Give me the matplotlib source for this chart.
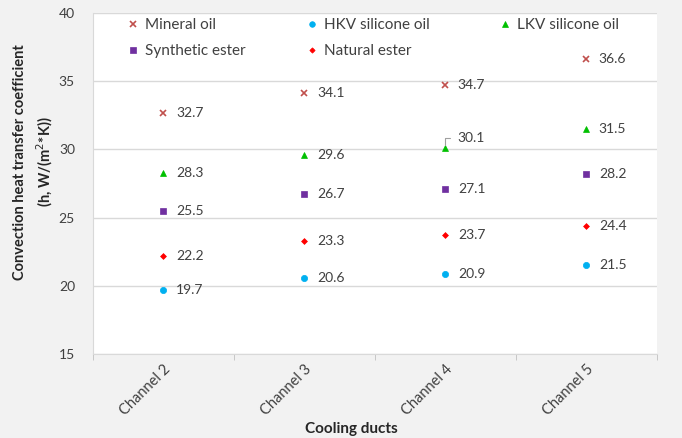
import matplotlib
matplotlib.use("Agg")
import matplotlib.pyplot as plt
from matplotlib.lines import Line2D
from matplotlib.legend import Legend

plt.rcParams['font.family'] = ['Lato', 'DejaVu Sans']

categories = ["Channel 2", "Channel 3", "Channel 4", "Channel 5"]
mineral_oil = [32.7, 34.1, 34.7, 36.6]
hkv_silicone = [19.7, 20.6, 20.9, 21.5]
lkv_silicone = [28.3, 29.6, 30.1, 31.5]
synthetic_ester = [25.5, 26.7, 27.1, 28.2]
natural_ester = [22.2, 23.3, 23.7, 24.4]

series = [
    ("Mineral oil", mineral_oil, 'x', '#c0504d', 5),
    ("HKV silicone oil", hkv_silicone, 'o', '#00b0f0', 4.5),
    ("LKV silicone oil", lkv_silicone, '^', '#00c000', 4.5),
    ("Synthetic ester", synthetic_ester, 's', '#7030a0', 4.5),
    ("Natural ester", natural_ester, 'D', '#ff0000', 3.0),
]

fig = plt.figure(figsize=(6.82, 4.38), dpi=100, facecolor='#f2f2f2')
ax = fig.add_axes([0.1364, 0.1918, 0.8266, 0.7785])
ax.set_facecolor('white')

x = list(range(len(categories)))
for name, vals, m, c, ms in series:
    ax.plot(x, vals, linestyle='none', marker=m, color=c, markersize=ms,
            markeredgewidth=1.2 if m == 'x' else 0.5, label=name)
    for xi, v in zip(x, vals):
        if name == "LKV silicone oil" and xi == 2:
            ax.annotate(f"{v}", xy=(xi, v), xytext=(9, 7), textcoords='offset points',
                        fontsize=10, color='#404040', va='center', ha='left',
                        arrowprops=dict(arrowstyle='-', color='#a0a0a0', lw=0.8,
                                        connectionstyle='angle,angleA=0,angleB=90,rad=0',
                                        shrinkA=4, shrinkB=2))
        else:
            ax.annotate(f"{v}", xy=(xi, v), xytext=(9, 0), textcoords='offset points',
                        fontsize=10, color='#404040', va='center', ha='left')

ax.set_xlim(-0.5, 3.5)
ax.set_ylim(15, 40)
ax.set_yticks([15, 20, 25, 30, 35, 40])
ax.set_xticks(x)
ax.set_xticklabels(categories, rotation=45, ha='right', rotation_mode='anchor')
ax.set_xticks([-0.5, 0.5, 1.5, 2.5, 3.5], minor=True)
ax.tick_params(axis='x', which='major', length=0, labelsize=10.5, colors='#404040', pad=6)
ax.tick_params(axis='x', which='minor', length=4, color='#c0c0c0')
ax.tick_params(axis='y', length=0, labelsize=10, colors='#404040', pad=13)
ax.grid(axis='y', color='#d9d9d9', lw=1)
ax.set_axisbelow(True)
for s in ['top', 'right']:
    ax.spines[s].set_visible(False)
ax.spines['left'].set_color('#d9d9d9')
ax.spines['bottom'].set_color('#d9d9d9')

ax.set_ylabel("Convection heat transfer coefficient\n(h, W/(m$^2$*K))", fontsize=10.5,
              fontweight='bold', color='#262626', linespacing=1.45)
ax.yaxis.set_label_coords(-0.068, 0.563)
ax.set_xlabel("Cooling ducts", fontsize=11, fontweight='bold', color='#262626')
ax.xaxis.set_label_coords(0.459, -0.20)

columns = [
    (["Mineral oil", "Synthetic ester"], 0.060),
    (["HKV silicone oil", "Natural ester"], 0.378),
    (["LKV silicone oil"], 0.720),
]
for names, xpos in columns:
    hs = []
    for nm in names:
        _, _, m, c, ms = next(s for s in series if s[0] == nm)
        hs.append(Line2D([], [], linestyle='none', marker=m, color=c, markersize=ms * 0.9,
                         markeredgewidth=1.2 if m == 'x' else 0.5))
    leg = Legend(ax, hs, names, loc='upper left', bbox_to_anchor=(xpos, 0.985),
                 frameon=False, fontsize=11, handlelength=0.8, handletextpad=0.4,
                 labelspacing=0.8, borderpad=0, borderaxespad=0)
    for t in leg.get_texts():
        t.set_color('#404040')
    ax.add_artist(leg)

fig.savefig("out.png", dpi=100, facecolor=fig.get_facecolor())
